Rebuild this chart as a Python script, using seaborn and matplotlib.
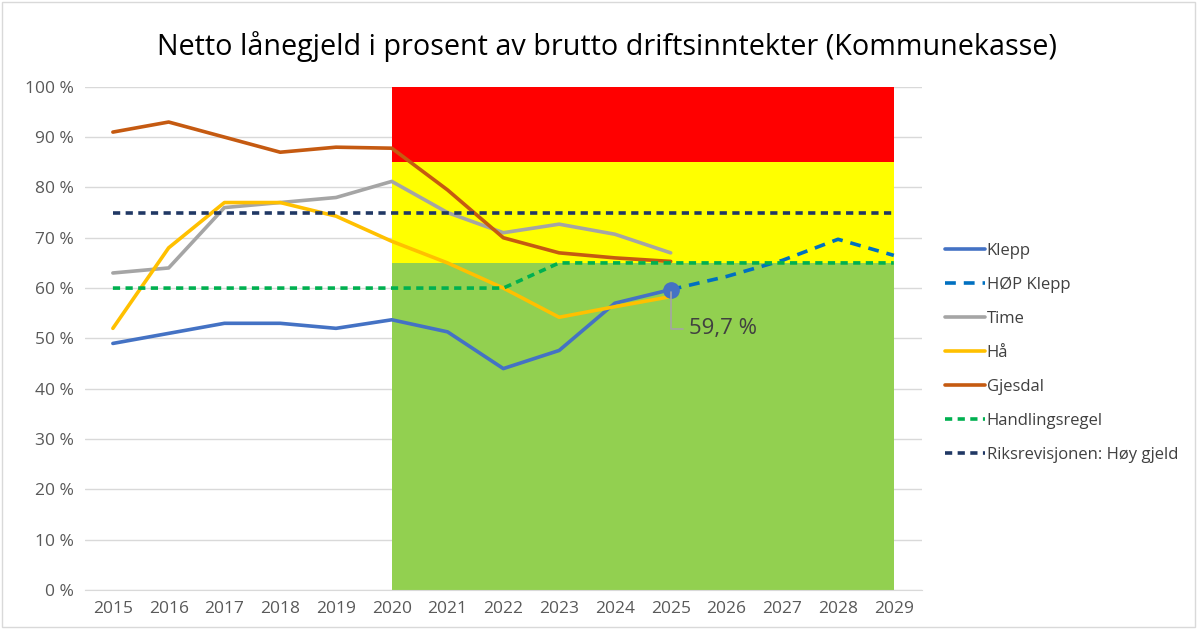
import pandas as pd
import matplotlib.pyplot as plt
import seaborn as sns

years = [str(y) for y in range(2015, 2030)]
hist_years = years[:11]
plan_years = years[10:]

klepp = [49, 51, 53, 53, 52, 53.7, 51.3, 44, 47.6, 57, 59.7]
hop_klepp = [59.7, 62.3, 65.5, 69.7, 66.5]
time = [63, 64, 76, 77, 78, 81.2, 75, 71, 72.7, 70.7, 67]
haa = [52, 68, 77, 77, 74.3, 69.3, 65, 60, 54.2, 56.3, 58.3]
gjesdal = [91, 93, 90, 87, 88, 87.8, 79.5, 70, 67, 66, 65.3]
handlingsregel = [60, 60, 60, 60, 60, 60, 60, 60, 65, 65, 65, 65, 65, 65, 65]
riksrev = [75] * 15

band_start, band_end = '2020', '2029'
band_green = (0, 65)
band_yellow = (65, 85)
band_red = (85, 100)

sns.set_style('white')
plt.rcParams['font.family'] = ['Open Sans', 'DejaVu Sans']

fig = plt.figure(figsize=(11.97, 6.29), dpi=100)
ax = fig.add_axes([0.071, 0.062, 0.699, 0.800])

x0 = years.index(band_start)
x1 = years.index(band_end)
for (lo, hi), c in [(band_green, '#92D050'), (band_yellow, '#FFFF00'), (band_red, '#FF0000')]:
    ax.fill_between([x0, x1], lo, hi, color=c, lw=0, zorder=1)

series = [
    ('Klepp', hist_years, klepp, '#4472C4', '-'),
    ('HØP Klepp', plan_years, hop_klepp, '#0070C0', (0, (3, 2.2))),
    ('Time', hist_years, time, '#A5A5A5', '-'),
    ('Hå', hist_years, haa, '#FFC000', '-'),
    ('Gjesdal', hist_years, gjesdal, '#C55A11', '-'),
    ('Handlingsregel', years, handlingsregel, '#00B050', (0, (2, 1.5))),
    ('Riksrevisjonen: Høy gjeld', years, riksrev, '#203864', (0, (2, 1.5))),
]

for name, xs, ys, col, ls in series:
    df = pd.DataFrame({'year': [years.index(x) for x in xs], 'value': ys})
    sns.lineplot(data=df, x='year', y='value', ax=ax, color=col, lw=2.6,
                 linestyle=ls, label=name, zorder=3)

# marker + label for last Klepp value
ax.plot(years.index('2025'), klepp[-1], 'o', color='#4472C4', ms=11, zorder=4)
ax.annotate('59,7 %', xy=(years.index('2025'), klepp[-1]),
            xytext=(years.index('2025') + 0.33, klepp[-1] - 7.8),
            fontsize=16, color='#404040', va='center', ha='left',
            arrowprops=dict(arrowstyle='-', color='#A5A5A5', lw=1.2,
                            connectionstyle='angle,angleA=0,angleB=90,rad=0'),
            zorder=5)

ax.set_xlim(-0.5, 14.5)
ax.set_ylim(0, 100)
ax.set_xticks(range(len(years)))
ax.set_xticklabels(years)
ax.set_yticks(range(0, 101, 10))
ax.set_yticklabels([f'{v} %' for v in range(0, 101, 10)])
ax.tick_params(colors='#595959', labelsize=12.5, length=0, pad=8)
ax.yaxis.grid(True, color='#D9D9D9', lw=1, zorder=0)
ax.set_axisbelow(True)
for s in ['top', 'right', 'left']:
    ax.spines[s].set_visible(False)
ax.spines['bottom'].set_color('#D9D9D9')
ax.set_xlabel('')
ax.set_ylabel('')

ax.legend(loc='upper left', bbox_to_anchor=(1.01, 0.72), frameon=False,
          fontsize=12, labelcolor='#404040', handlelength=2.4,
          handletextpad=0.1, labelspacing=1.08)

fig.suptitle('Netto lånegjeld i prosent av brutto driftsinntekter (Kommunekasse)',
             x=0.507, y=0.95, fontsize=20.7, color='#000000')

fig.patches.append(plt.Rectangle((0.002, 0.003), 0.996, 0.994, transform=fig.transFigure,
                                 fill=False, edgecolor='#D9D9D9', lw=1))

fig.savefig('out.png', dpi=100)
